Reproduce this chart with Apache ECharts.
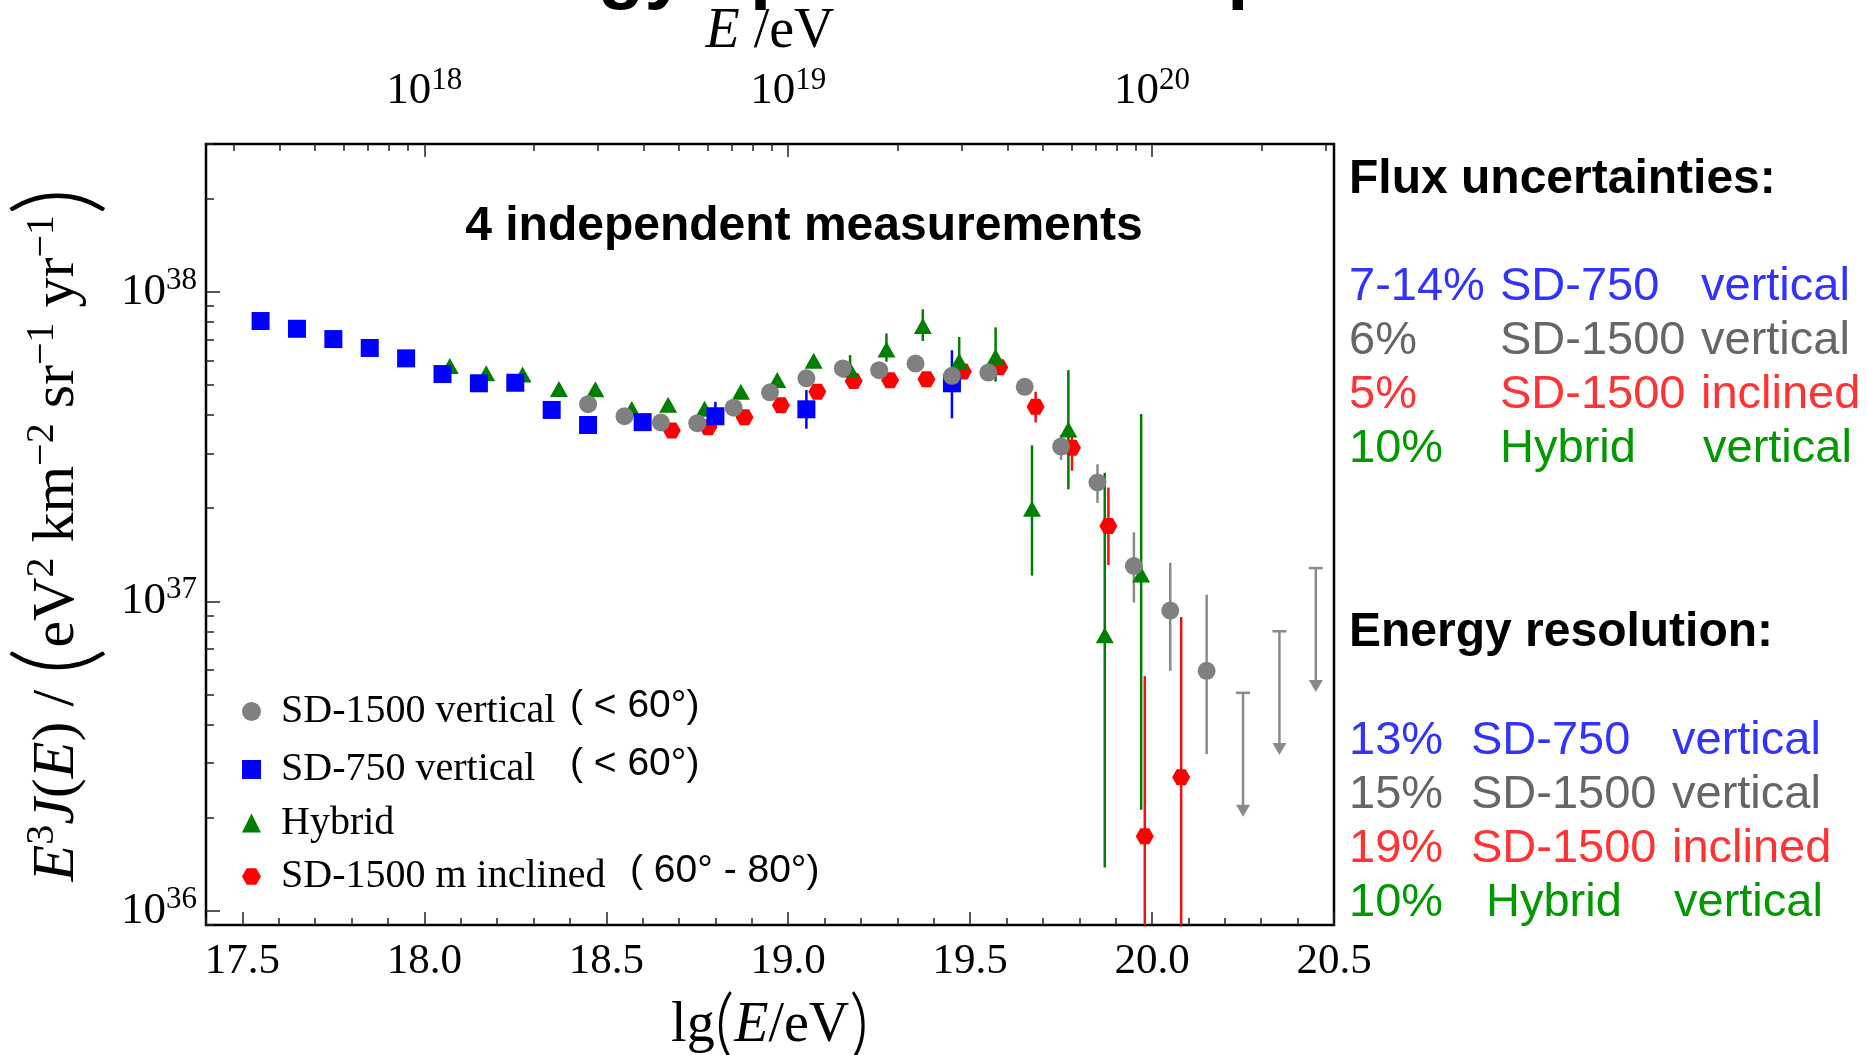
<!DOCTYPE html>
<html><head><meta charset="utf-8">
<script src="https://cdn.jsdelivr.net/npm/echarts@6/dist/echarts.min.js"></script>
<style>html,body{margin:0;padding:0;background:#fff}#c{width:1867px;height:1055px}</style>
</head><body><div id="c"></div>
<script>
// ---------------- data ----------------
// SD-1500 vertical (grey circles)
const sd1500LgE  = [18.45, 18.55, 18.65, 18.75, 18.85, 18.95, 19.05, 19.15, 19.25, 19.35, 19.45, 19.55, 19.65, 19.75, 19.85, 19.95, 20.05, 20.15];
const sd1500Flux = [4.33e37, 3.96e37, 3.78e37, 3.76e37, 4.22e37, 4.73e37, 5.25e37, 5.65e37, 5.58e37, 5.86e37, 5.35e37, 5.48e37, 4.93e37, 3.16e37, 2.42e37, 1.30e37, 9.33e36, 5.96e36];
const sd1500ErrLow  = [null, null, null, null, null, null, null, null, null, null, null, null, null, 2.86e37, 2.08e37, 9.9e36, 5.96e36, 3.21e36];
const sd1500ErrHigh = [null, null, null, null, null, null, null, null, null, null, null, null, null, 3.45e37, 2.77e37, 1.67e37, 1.33e37, 1.05e37];
// SD-1500 upper limits
const sd1500LimitLgE = [20.25, 20.35, 20.45];
const sd1500Limit    = [5.06e36, 8.0e36, 1.28e37];

// SD-750 vertical (blue squares)
const sd750LgE  = [17.55, 17.65, 17.75, 17.85, 17.95, 18.05, 18.15, 18.25, 18.35, 18.45, 18.6, 18.8, 19.05, 19.45];
const sd750Flux = [8.04e37, 7.59e37, 7.03e37, 6.58e37, 6.09e37, 5.42e37, 5.06e37, 5.08e37, 4.15e37, 3.71e37, 3.79e37, 3.96e37, 4.17e37, 5.06e37];
const sd750ErrLow  = [null, null, null, null, null, null, null, null, null, null, null, 3.61e37, 3.61e37, 3.90e37];
const sd750ErrHigh = [null, null, null, null, null, null, null, null, null, null, null, 4.41e37, 4.81e37, 6.47e37];

// Hybrid (green triangles)
const hybridLgE  = [18.07, 18.17, 18.27, 18.37, 18.47, 18.57, 18.67, 18.77, 18.87, 18.97, 19.07, 19.17, 19.27, 19.37, 19.47, 19.57, 19.67, 19.77, 19.87, 19.97];
const hybridFlux = [5.75e37, 5.45e37, 5.40e37, 4.85e37, 4.84e37, 4.18e37, 4.31e37, 4.19e37, 4.75e37, 5.19e37, 5.98e37, 5.61e37, 6.51e37, 7.75e37, 5.97e37, 6.16e37, 1.99e37, 3.59e37, 7.77e36, 1.22e37];
const hybridErrLow  = [null, null, null, null, null, null, null, null, null, null, null, 5.26e37, 5.94e37, 6.93e37, 5.06e37, 5.12e37, 1.21e37, 2.30e37, 1.38e36, 2.12e36];
const hybridErrHigh = [null, null, null, null, null, null, null, null, null, null, null, 6.24e37, 7.33e37, 8.77e37, 7.14e37, 7.67e37, 3.19e37, 5.58e37, 2.60e37, 4.03e37];

// SD-1500 inclined (red hexagons)
const incLgE  = [18.68, 18.78, 18.88, 18.98, 19.08, 19.18, 19.28, 19.38, 19.48, 19.58, 19.68, 19.78, 19.88, 19.98, 20.08];
const incFlux = [3.56e37, 3.65e37, 3.93e37, 4.30e37, 4.75e37, 5.15e37, 5.18e37, 5.21e37, 5.52e37, 5.70e37, 4.25e37, 3.13e37, 1.75e37, 1.74e36, 2.70e36];
const incErrLow  = [null, null, null, null, null, null, null, null, null, null, 3.78e37, 2.64e37, 1.31e37, 1e35, 1e35];
const incErrHigh = [null, null, null, null, null, null, null, null, null, null, 4.75e37, 3.48e37, 2.33e37, 5.73e36, 8.9e36];

// axes
const lgEMin = 17.4, lgEMax = 20.5;
const fluxMin = 9e35, fluxMax = 3e38;
const xLabelValues = [17.5, 18.0, 18.5, 19.0, 19.5, 20.0, 20.5];
const topLabelPowers = [18, 19, 20];
const yLabelPowers = [36, 37, 38];

// legend
const legendNames = ['SD-1500 vertical', 'SD-750 vertical', 'Hybrid', 'SD-1500 m inclined'];
const legendNotes = ['( < 60°)', '( < 60°)', '', '( 60° - 80°)'];

// side texts
const innerTitle = '4 independent measurements';
const pageTitle = 'Energy spectrum components';
const fluxHeader = 'Flux uncertainties:';
const fluxPct  = ['7-14%', '6%', '5%', '10%'];
const fluxDet  = ['SD-750', 'SD-1500', 'SD-1500', 'Hybrid'];
const fluxKind = ['vertical', 'vertical', 'inclined', 'vertical'];
const resHeader = 'Energy resolution:';
const resPct  = ['13%', '15%', '19%', '10%'];
const resDet  = ['SD-750', 'SD-1500', 'SD-1500', 'Hybrid'];
const resKind = ['vertical', 'vertical', 'inclined', 'vertical'];

// ---------------- styling ----------------
const serif = "'Liberation Serif','DejaVu Serif',serif";
const sans = "'Liberation Sans','DejaVu Sans',Arial,sans-serif";
const thin = "Lato,'Liberation Serif',serif";
const rowColors = ['#3333ff', '#666666', '#ff3333', '#009900'];
const hexPath = 'path://M0,8.66 L5,0 L15,0 L20,8.66 L15,17.32 L5,17.32 Z';
const limitArrowDecades = 0.4;

const lg = v => Math.log10(v);
const pts = (xs, ys) => xs.map((x, i) => [x, lg(ys[i])]);
const bars = (xs, lo, hi) => xs.map((x, i) => lo[i] == null ? null : [x, lg(lo[i]), lg(hi[i])]).filter(Boolean);

// tick positions
const near = (a, b) => Math.abs(a - b) < 1e-6;
const xMinorTicks = [];
for (let k = Math.round(lgEMin * 10); k <= Math.round(lgEMax * 10); k++) {
  const v = k / 10; if (!xLabelValues.some(l => near(l, v))) xMinorTicks.push(v);
}
const topMinorTicks = [];
for (let n = 17; n <= 20; n++) for (let k = 2; k <= 9; k++) {
  const v = n + Math.log10(k); if (v >= lgEMin && v <= lgEMax) topMinorTicks.push(v);
}
const yMin = lg(fluxMin), yMax = lg(fluxMax);
const yMinorTicks = [];
for (let n = 35; n <= 38; n++) for (let k = 2; k <= 9; k++) {
  const v = n + Math.log10(k); if (v >= yMin && v <= yMax) yMinorTicks.push(v);
}

const tickLine = { color: '#222', width: 1.5 };
const powRich = {
  b: { fontFamily: serif, fontSize: 45, color: '#000' },
  s: { fontFamily: serif, fontSize: 31, color: '#000', padding: [0, 0, 22, 0] }
};
const powFmt = v => '{b|10}{s|' + Math.round(v) + '}';

function errSeries(data, color) {
  return {
    type: 'custom', data, z: 2, silent: true, clip: true,
    encode: { x: 0, y: [1, 2] },
    renderItem: (params, api) => {
      const cs = params.coordSys;
      const a = api.coord([api.value(0), api.value(1)]);
      const b = api.coord([api.value(0), api.value(2)]);
      const yb = Math.min(a[1], cs.y + cs.height);
      return { type: 'line', shape: { x1: a[0], y1: yb, x2: b[0], y2: b[1] },
        style: { stroke: color, lineWidth: 2.5 } };
    }
  };
}

const limitColor = '#8a8a8a';
const limitSeries = {
  type: 'custom', z: 2, silent: true,
  data: pts(sd1500LimitLgE, sd1500Limit),
  encode: { x: 0, y: 1 },
  renderItem: (params, api) => {
    const x = api.value(0), v = api.value(1);
    const top = api.coord([x, v]);
    const tip = api.coord([x, v - limitArrowDecades]);
    return { type: 'group', children: [
      { type: 'line', shape: { x1: top[0], y1: top[1], x2: tip[0], y2: tip[1] - 8 }, style: { stroke: limitColor, lineWidth: 2.5 } },
      { type: 'line', shape: { x1: top[0] - 7, y1: top[1], x2: top[0] + 7, y2: top[1] }, style: { stroke: limitColor, lineWidth: 2.5 } },
      { type: 'polygon', shape: { points: [[tip[0] - 7, tip[1] - 12], [tip[0] + 7, tip[1] - 12], [tip[0], tip[1]]] }, style: { fill: limitColor } }
    ] };
  }
};

// right-side tables
const graphics = [];
function addTable(header, headerY, rowY0, cols, pct, det, kind, rowShift) {
  graphics.push({ type: 'text', x: cols[0], y: headerY, style: { text: header, fill: '#000', font: 'bold 48px ' + sans, align: 'left', verticalAlign: 'middle' } });
  for (let i = 0; i < pct.length; i++) {
    const y = rowY0 + i * 54;
    const cells = [pct[i], det[i], kind[i]];
    cells.forEach((t, j) => {
      graphics.push({ type: 'text', x: cols[j] + (rowShift[i] ? rowShift[i][j] : 0), y,
        style: { text: t, fill: rowColors[i], font: '47px ' + sans, align: 'left', verticalAlign: 'middle' } });
    });
  }
}
addTable(fluxHeader, 180, 287, [1349, 1500, 1701], fluxPct, fluxDet, fluxKind, [null, null, null, [0, 0, 2]]);
addTable(resHeader, 633, 741, [1349, 1471, 1672], resPct, resDet, resKind, [null, null, null, [0, 15, 2]]);
graphics.push({ type: 'text', x: 804, y: 227, style: { text: innerTitle, fill: '#000', font: 'bold 48px ' + sans, align: 'center', verticalAlign: 'middle' } });
graphics.push({ type: 'text', x: 429, y: -27, style: { text: pageTitle, fill: '#000', font: 'bold 76px ' + sans, align: 'left', verticalAlign: 'middle' } });

const legendIcons = ['circle', 'rect', 'triangle', hexPath];

const option = {
  animation: false,
  backgroundColor: '#fff',
  grid: { left: 206, top: 144, width: 1128, height: 781, outerBoundsMode: 'none', containLabel: false,
    show: true, borderColor: '#000', borderWidth: 2.5, backgroundColor: 'transparent' },
  xAxis: [
    { type: 'value', position: 'bottom', min: lgEMin, max: lgEMax,
      axisLine: { show: false, onZero: false }, splitLine: { show: false },
      axisTick: { show: true, inside: true, length: 7, customValues: xMinorTicks, lineStyle: tickLine },
      axisLabel: { show: false } },
    { type: 'value', position: 'bottom', min: lgEMin, max: lgEMax,
      axisLine: { show: false, onZero: false }, splitLine: { show: false },
      axisTick: { show: true, inside: true, length: 13, customValues: xLabelValues, lineStyle: tickLine },
      axisLabel: { show: true, customValues: xLabelValues, formatter: v => Number(v).toFixed(1), margin: 15,
        fontFamily: serif, fontSize: 43, color: '#000', showMinLabel: true, showMaxLabel: true },
      name: '{n|lg}{p|(}{i|E}{n|/eV}{p|)}', nameLocation: 'middle', nameGap: 60,
      nameTextStyle: { rich: {
        n: { fontFamily: serif, fontSize: 56, color: '#000' },
        i: { fontFamily: serif, fontSize: 56, fontStyle: 'italic', color: '#000' },
        p: { fontFamily: thin, fontWeight: 300, fontSize: 76, color: '#000' } } } },
    { type: 'value', position: 'top', min: lgEMin, max: lgEMax,
      axisLine: { show: false, onZero: false }, splitLine: { show: false },
      axisTick: { show: true, inside: true, length: 7, customValues: topMinorTicks, lineStyle: tickLine },
      axisLabel: { show: false } },
    { type: 'value', position: 'top', min: lgEMin, max: lgEMax,
      axisLine: { show: false, onZero: false }, splitLine: { show: false },
      axisTick: { show: true, inside: true, length: 13, customValues: topLabelPowers, lineStyle: tickLine },
      axisLabel: { show: true, customValues: topLabelPowers, formatter: powFmt, margin: 26, rich: powRich },
      name: '{i|E}{n| /eV}', nameLocation: 'middle', nameGap: 82,
      nameTextStyle: { rich: {
        n: { fontFamily: serif, fontSize: 56, color: '#000' },
        i: { fontFamily: serif, fontSize: 56, fontStyle: 'italic', color: '#000' } } } }
  ],
  yAxis: [
    { type: 'value', position: 'left', min: yMin, max: yMax,
      axisLine: { show: false, onZero: false }, splitLine: { show: false },
      axisTick: { show: true, inside: true, length: 8, customValues: yMinorTicks, lineStyle: tickLine },
      axisLabel: { show: false } },
    { type: 'value', position: 'left', min: yMin, max: yMax,
      axisLine: { show: false, onZero: false }, splitLine: { show: false },
      axisTick: { show: true, inside: true, length: 14, customValues: yLabelPowers, lineStyle: tickLine },
      axisLabel: { show: true, customValues: yLabelPowers, formatter: powFmt, margin: 9, rich: powRich },
      name: '{i|E}{s|3}{i|J}{n|(}{i|E}{n|) / }{p|(}{n|eV}{s|2}{n| km}{s|−2}{n| sr}{s|−1}{n| yr}{s|−1}{p|)}',
      nameLocation: 'middle', nameRotate: 90, nameGap: 94,
      nameTextStyle: { rich: {
        n: { fontFamily: serif, fontSize: 60, color: '#000' },
        i: { fontFamily: serif, fontSize: 60, fontStyle: 'italic', color: '#000' },
        s: { fontFamily: serif, fontSize: 40, color: '#000', padding: [0, 0, 30, 0] },
        p: { fontFamily: thin, fontWeight: 300, fontSize: 106, color: '#000' } } } }
  ],
  legend: {
    orient: 'vertical', left: 242, top: 687, padding: 0, itemGap: 9, itemWidth: 19, itemHeight: 19,
    selectedMode: false,
    data: legendNames.map((n, i) => ({ name: n, icon: legendIcons[i] })),
    formatter: name => {
      const i = legendNames.indexOf(name);
      const st = i === 3 ? 'nw' : 'n';
      return '{g| }{' + st + '|' + name + '}' + (legendNotes[i] ? '{p|' + legendNotes[i] + '}' : '');
    },
    textStyle: { rich: {
      g: { width: 15, fontSize: 10, lineHeight: 46 },
      n: { fontFamily: serif, fontSize: 40, color: '#000', width: 289, lineHeight: 46 },
      nw: { fontFamily: serif, fontSize: 40, color: '#000', width: 349, lineHeight: 46 },
      p: { fontFamily: sans, fontSize: 39, color: '#000', lineHeight: 46, padding: [0, 0, 10, 0] } } }
  },
  graphic: graphics,
  series: [
    errSeries(bars(incLgE, incErrLow, incErrHigh), '#ee1111'),
    errSeries(bars(hybridLgE, hybridErrLow, hybridErrHigh), '#007f00'),
    errSeries(bars(sd750LgE, sd750ErrLow, sd750ErrHigh), '#0000ff'),
    errSeries(bars(sd1500LgE, sd1500ErrLow, sd1500ErrHigh), '#8a8a8a'),
    limitSeries,
    { name: 'SD-1500 m inclined', type: 'scatter', z: 3, data: pts(incLgE, incFlux),
      symbol: hexPath, symbolSize: [18, 16], itemStyle: { color: '#ff0000', opacity: 1 } },
    { name: 'Hybrid', type: 'scatter', z: 3, data: pts(hybridLgE, hybridFlux),
      symbol: 'triangle', symbolSize: [18, 16], itemStyle: { color: '#007f00', opacity: 1 } },
    { name: 'SD-750 vertical', type: 'scatter', z: 3, data: pts(sd750LgE, sd750Flux),
      symbol: 'rect', symbolSize: 18, itemStyle: { color: '#0000ff', opacity: 1 } },
    { name: 'SD-1500 vertical', type: 'scatter', z: 3, data: pts(sd1500LgE, sd1500Flux),
      symbol: 'circle', symbolSize: 18, itemStyle: { color: '#808080', opacity: 1 } }
  ]
};

const chart = echarts.init(document.getElementById('c'), null, { renderer: 'canvas' });
chart.setOption(option);
</script></body></html>
